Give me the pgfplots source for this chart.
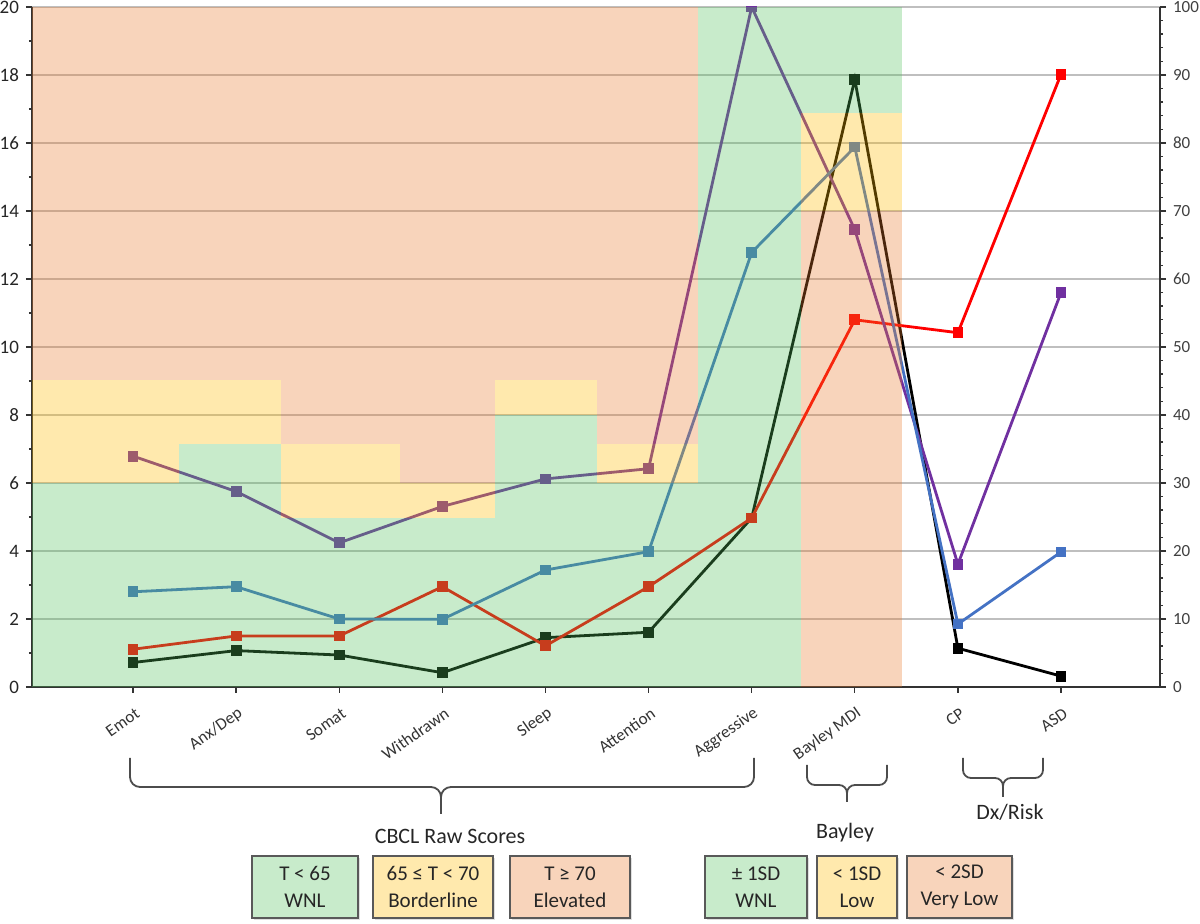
\documentclass[border=0pt]{standalone}
\usepackage{fontspec}
\setmainfont{Carlito}
\usepackage{pgfplots}
\pgfplotsset{compat=1.18}
\usetikzlibrary{shadows}
\definecolor{cpurple}{HTML}{7030A0}
\definecolor{cblue}{HTML}{4472C4}
\definecolor{cred}{HTML}{FF0000}
\definecolor{bgG}{RGB}{83,192,92}
\definecolor{bgY}{RGB}{255,186,0}
\definecolor{bgP}{RGB}{233,121,42}
\definecolor{lgG}{RGB}{200,235,203}
\definecolor{lgY}{RGB}{255,233,173}
\definecolor{lgP}{RGB}{248,212,187}
\newcommand{\band}[5]{\addplot[draw=none, fill=#1, fill opacity=0.32, forget plot] coordinates {(#2,#4) (#3,#4) (#3,#5) (#2,#5)} -- cycle;}
\begin{document}
\begin{tikzpicture}
\useasboundingbox (-16pt,-118.5pt) rectangle (584pt,343.5pt);
\begin{axis}[
  at={(0pt,0pt)}, anchor=south west,
  scale only axis, width=564pt, height=340pt,
  xmin=-0.98, xmax=9.96, ymin=0, ymax=20,
  axis x line*=bottom, axis y line*=left,
  axis line style={black!80, line width=0.9pt},
  tick align=outside,
  xtick={0,...,9},
  xticklabels={Emot,Anx/Dep,Somat,Withdrawn,Sleep,Attention,Aggressive,Bayley MDI,CP,ASD},
  xticklabel style={rotate=35, anchor=east, yshift=-9pt, font=\fontsize{8.5}{10}\selectfont, text=black!80},
  ytick={0,2,...,20}, minor y tick num=1,
  yticklabel style={font=\fontsize{9.5}{10}\selectfont, text=black!85},
  /pgf/number format/assume math mode=true,
  major tick length=3pt, minor tick length=1.5pt,
  tick style={black!80, line width=0.7pt},
  ymajorgrids, major grid style={black!25, line width=0.6pt},
  clip marker paths=true,
]
\addplot[black, line width=1.4pt, mark=square*, mark size=2pt] coordinates {(0,0.72) (1,1.07) (2,0.94) (3,0.42) (4,1.45) (5,1.61) (6,4.97) (7,17.87) (8,1.14) (9,0.32)};
\addplot[cred, line width=1.4pt, mark=square*, mark size=2pt] coordinates {(0,1.11) (1,1.50) (2,1.50) (3,2.95) (4,1.21) (5,2.95) (6,4.97) (7,10.80) (8,10.42) (9,18.02)};
\addplot[cpurple, line width=1.4pt, mark=square*, mark size=2pt] coordinates {(0,6.79) (1,5.75) (2,4.24) (3,5.31) (4,6.12) (5,6.42) (6,20) (7,13.45) (8,3.61) (9,11.6)};
\addplot[cblue, line width=1.4pt, mark=square*, mark size=2pt] coordinates {(0,2.80) (1,2.95) (2,2.0) (3,1.99) (4,3.44) (5,3.98) (6,12.78) (7,15.88) (8,1.85) (9,3.97)};
% shaded bands
\band{bgG}{-0.98}{0.446}{0}{6}
\band{bgY}{-0.98}{0.446}{6}{9.04}
\band{bgP}{-0.98}{0.446}{9.04}{20}
\band{bgG}{0.446}{1.435}{0}{7.14}
\band{bgY}{0.446}{1.435}{7.14}{9.04}
\band{bgP}{0.446}{1.435}{9.04}{20}
\band{bgG}{1.435}{2.59}{0}{4.97}
\band{bgY}{1.435}{2.59}{4.97}{7.14}
\band{bgP}{1.435}{2.59}{7.14}{20}
\band{bgG}{2.59}{3.51}{0}{4.97}
\band{bgY}{2.59}{3.51}{4.97}{6}
\band{bgP}{2.59}{3.51}{6}{20}
\band{bgG}{3.51}{4.50}{0}{8}
\band{bgY}{3.51}{4.50}{8}{9.04}
\band{bgP}{3.51}{4.50}{9.04}{20}
\band{bgG}{4.50}{5.48}{0}{6}
\band{bgY}{4.50}{5.48}{6}{7.16}
\band{bgP}{4.50}{5.48}{7.16}{20}
\band{bgG}{5.48}{6.48}{0}{20}
\band{bgP}{6.48}{7.46}{0}{14}
\band{bgY}{6.48}{7.46}{14}{16.88}
\band{bgG}{6.48}{7.46}{16.88}{20}
\end{axis}
\begin{axis}[
  at={(0pt,0pt)}, anchor=south west,
  scale only axis, width=564pt, height=340pt,
  xmin=-0.98, xmax=9.96, ymin=0, ymax=100,
  axis y line*=right, axis x line=none,
  axis line style={black!80, line width=0.9pt},
  tick align=outside,
  ytick={0,10,...,100}, minor y tick num=4,
  yticklabel style={font=\fontsize{8.5}{10}\selectfont, text=black!75},
  /pgf/number format/assume math mode=true,
  major tick length=3pt, minor tick length=1.5pt,
  tick style={black!80, line width=0.7pt},
]
\addplot[draw=none] coordinates {(0,0)};
\end{axis}
% braces
\begin{scope}[line width=0.9pt, black!70]
\draw[rounded corners=5pt] (49pt,-35.5pt) |- (204.5pt,-50pt) -- (204.5pt,-63.5pt);
\draw[rounded corners=5pt] (361pt,-35.5pt) |- (204.5pt,-50pt) -- (204.5pt,-63.5pt);
\draw[rounded corners=4pt] (387.5pt,-39pt) |- (407.5pt,-49pt) -- (407.5pt,-57.5pt);
\draw[rounded corners=4pt] (427.5pt,-39pt) |- (407.5pt,-49pt) -- (407.5pt,-57.5pt);
\draw[rounded corners=4pt] (465.5pt,-35.5pt) |- (485.5pt,-45.5pt) -- (485.5pt,-55pt);
\draw[rounded corners=4pt] (505.5pt,-35.5pt) |- (485.5pt,-45.5pt) -- (485.5pt,-55pt);
\end{scope}
\begin{scope}[font=\fontsize{11}{13}\selectfont, text=black!85]
\node at (209pt,-74.5pt) {CBCL Raw Scores};
\node at (406.5pt,-73pt) {Bayley};
\node at (489pt,-62.5pt) {Dx/Risk};
\end{scope}
\begin{scope}[every node/.style={draw=black!65, line width=0.9pt, minimum height=31pt, inner sep=0pt, align=center, font=\fontsize{10.5}{13.5}\selectfont, text=black!85, drop shadow={opacity=0.25, shadow xshift=0.8pt, shadow yshift=-0.8pt}}]
\node[fill=lgG, minimum width=53pt] at (136.5pt,-100pt) {T < 65\\WNL};
\node[fill=lgY, minimum width=60pt] at (200.5pt,-100pt) {65 ≤ T < 70\\Borderline};
\node[fill=lgP, minimum width=60pt] at (269pt,-100pt) {T ≥ 70\\Elevated};
\node[fill=lgG, minimum width=51pt] at (362pt,-100pt) {± 1SD\\WNL};
\node[fill=lgY, minimum width=40pt] at (412.5pt,-100pt) {< 1SD\\Low};
\node[fill=lgP, minimum width=52.5pt] at (463.75pt,-100pt) {< 2SD\\Very Low};
\end{scope}
\end{tikzpicture}
\end{document}
